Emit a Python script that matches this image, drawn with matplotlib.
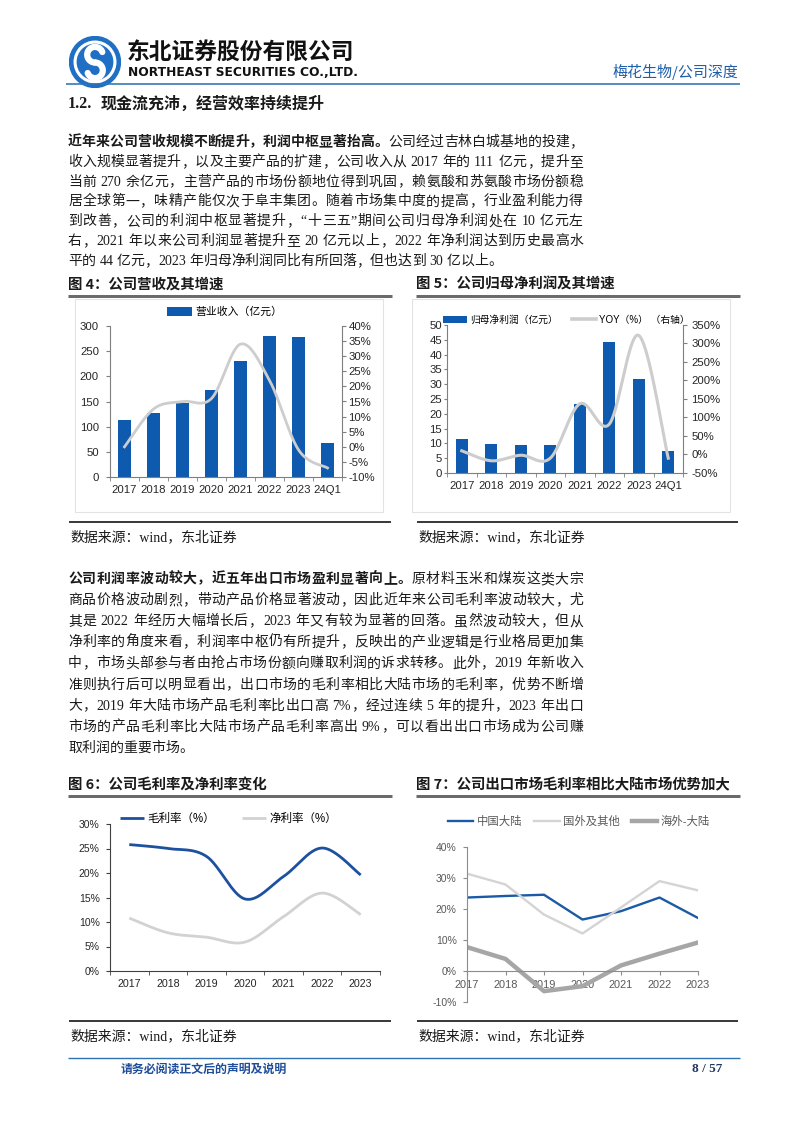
import re
import numpy as np
import matplotlib
matplotlib.use('Agg')
import matplotlib.pyplot as plt
from matplotlib.patches import Circle, Rectangle, Patch
from matplotlib.lines import Line2D
from matplotlib.ticker import FuncFormatter
from matplotlib.font_manager import FontProperties, findfont, get_font

# ---------------- data ----------------
years8 = ['2017', '2018', '2019', '2020', '2021', '2022', '2023', '24Q1']
revenue = [113, 128, 148, 173, 230, 281, 279, 67]          # 亿元
revenue_yoy = [0, 12.5, 15, 16, 34, 22, -1, -7]            # %
profit = [11.5, 9.8, 9.6, 9.6, 23.4, 44.1, 31.8, 7.3]      # 亿元
profit_yoy = [10, -17, -2, -10, 137, 82, 322, -10]         # %

years7 = ['2017', '2018', '2019', '2020', '2021', '2022', '2023']
gross_margin = [25.8, 25.0, 23.4, 14.7, 19.3, 25.1, 19.6]
net_margin = [10.8, 7.8, 6.9, 5.9, 11.1, 15.9, 11.5]
gm_mainland = [23.7, 24.2, 24.6, 16.6, 19.3, 23.7, 17.1]
gm_overseas = [31.4, 27.9, 18.2, 12.1, 20.5, 29.0, 26.0]
gm_diff = [7.7, 3.9, -6.5, -4.9, 1.8, 5.6, 9.2]

para1 = [
    [('近年来公司营收规模不断提升，利润中枢显著抬高。', True), ('公司经过吉林白城基地的投建，', False)],
    [('收入规模显著提升，以及主要产品的扩建，公司收入从 2017 年的 111 亿元，提升至', False)],
    [('当前 270 余亿元，主营产品的市场份额地位得到巩固，赖氨酸和苏氨酸市场份额稳', False)],
    [('居全球第一，味精产能仅次于阜丰集团。随着市场集中度的提高，行业盈利能力得', False)],
    [('到改善，公司的利润中枢显著提升，“十三五”期间公司归母净利润处在 10 亿元左', False)],
    [('右，2021 年以来公司利润显著提升至 20 亿元以上，2022 年净利润达到历史最高水', False)],
    [('平的 44 亿元，2023 年归母净利润同比有所回落，但也达到 30 亿以上。', False)],
]
para2 = [
    [('公司利润率波动较大，近五年出口市场盈利显著向上。', True), ('原材料玉米和煤炭这类大宗', False)],
    [('商品价格波动剧烈，带动产品价格显著波动，因此近年来公司毛利率波动较大，尤', False)],
    [('其是 2022 年经历大幅增长后，2023 年又有较为显著的回落。虽然波动较大，但从', False)],
    [('净利率的角度来看，利润率中枢仍有所提升，反映出的产业逻辑是行业格局更加集', False)],
    [('中，市场头部参与者由抢占市场份额向赚取利润的诉求转移。此外，2019 年新收入', False)],
    [('准则执行后可以明显看出，出口市场的毛利率相比大陆市场的毛利率，优势不断增', False)],
    [('大，2019 年大陆市场产品毛利率比出口高 7%，经过连续 5 年的提升，2023 年出口', False)],
    [('市场的产品毛利率比大陆市场产品毛利率高出 9%，可以看出出口市场成为公司赚', False)],
    [('取利润的重要市场。', False)],
]

# ---------------- setup ----------------
W, H = 802, 1133
CJK = 'Noto Sans CJK SC'
LAT_SERIF = 'Liberation Serif'
SERIF = [LAT_SERIF, CJK]
SANS = ['Liberation Sans', CJK]
plt.rcParams['font.family'] = SANS
plt.rcParams['axes.unicode_minus'] = False

HDR_BLUE = '#2e74b5'
BAR = '#0e5aae'
LGRAY = '#cdcdcd'
DBLUE = '#1d519f'
TXT = '#1a1a1a'

fig = plt.figure(figsize=(W / 100, H / 100), dpi=100)


def fx(x):
    return x / W


def fy(y):
    return 1 - y / H


def ftext(x, y, s, **kw):
    return fig.text(fx(x), fy(y), s, **kw)


def hline(x0, x1, y, color, lw_px):
    fig.add_artist(Line2D([fx(x0), fx(x1)], [fy(y), fy(y)], color=color,
                          lw=lw_px * 0.72, transform=fig.transFigure,
                          solid_capstyle='butt'))


def add_ax(x0, y0, x1, y1, **kw):
    return fig.add_axes([fx(x0), fy(y1), (x1 - x0) / W, (y1 - y0) / H], **kw)


def lat_width(s, size_pt, weight='normal'):
    f = get_font(findfont(FontProperties(family=LAT_SERIF, weight=weight)))
    f.set_size(size_pt, 100)
    w = 0.0
    for ch in s:
        g = f.load_char(ord(ch))
        w += g.linearHoriAdvance / 65536
    return w


TOKEN = re.compile(r'[A-Za-z0-9%.\-/]+|\s|.')


def is_cjk(tk):
    return ord(tk[0]) >= 0x2E80


def draw_para(lines, x0, x1, yc0, dy, size_pt):
    px = size_pt * 100 / 72
    for i, segs in enumerate(lines):
        yb = yc0 + i * dy + 0.36 * px
        toks = []
        for s, b in segs:
            for tk in TOKEN.findall(s):
                toks.append((tk, b))
        ws = []
        for tk, b in toks:
            if tk == ' ':
                ws.append(0.25 * px)
            elif is_cjk(tk):
                ws.append(px * len(tk))
            else:
                ws.append(lat_width(tk, size_pt, 'bold' if b else 'normal'))
        last = i == len(lines) - 1
        gap = 0 if last else (x1 - x0 - sum(ws)) / (len(toks) - 1)
        x = x0
        for (tk, b), w in zip(toks, ws):
            if tk != ' ':
                fam = CJK if is_cjk(tk) else LAT_SERIF
                ftext(x, yb, tk, fontsize=size_pt, family=fam,
                      weight='bold' if b else 'normal', va='baseline',
                      ha='left', color=TXT)
            x += w + gap


def smooth(x, y, n=40):
    P = np.column_stack([np.asarray(x, float), np.asarray(y, float)])
    out = []
    for i in range(len(P) - 1):
        p0 = P[i - 1] if i > 0 else P[i]
        p1, p2 = P[i], P[i + 1]
        p3 = P[i + 2] if i + 2 < len(P) else P[i + 1]
        c1 = p1 + (p2 - p0) / 6
        c2 = p2 - (p3 - p1) / 6
        t = np.linspace(0, 1, n)[:, None]
        seg = (1 - t) ** 3 * p1 + 3 * (1 - t) ** 2 * t * c1 + 3 * (1 - t) * t ** 2 * c2 + t ** 3 * p2
        out.append(seg if i == 0 else seg[1:])
    out = np.vstack(out)
    return out[:, 0], out[:, 1]


pct = FuncFormatter(lambda v, p: f'{v:.0f}%')

# ---------------- header ----------------
lax = add_ax(69, 36, 121, 88)
lax.set_xlim(-1, 1)
lax.set_ylim(-1, 1)
lax.set_aspect('equal')
lax.axis('off')
lax.add_patch(Circle((0, 0), 0.98, color='#1f6fc5'))
lax.add_patch(Circle((0, 0), 0.80, color='white'))
lax.add_patch(Circle((0, 0), 0.68, color='#1f6fc5'))
th = np.linspace(np.deg2rad(20), np.deg2rad(270), 60)
lax.plot(0.30 * np.cos(th), 0.28 + 0.30 * np.sin(th), color='white', lw=4.5, solid_capstyle='round')
th = np.linspace(np.deg2rad(90), np.deg2rad(-160), 60)
lax.plot(0.30 * np.cos(th), -0.32 + 0.30 * np.sin(th), color='white', lw=4.5, solid_capstyle='round')

ftext(127, 52, '东北证券股份有限公司', fontsize=16.4, family=CJK, weight='heavy',
      va='center', ha='left', color='#111111')
ftext(128, 72, 'NORTHEAST SECURITIES CO.,LTD.', fontsize=8.8, family='DejaVu Sans',
      weight='bold', va='center', ha='left', color='#111111')
ftext(738, 72, '梅花生物/公司深度', fontsize=10.8, family=CJK, va='center', ha='right',
      color='#1f5fa8')
hline(66, 740, 84, HDR_BLUE, 1.6)

ftext(68, 104, '1.2.', fontsize=11.5, family=LAT_SERIF, weight='bold', va='center',
      ha='left', color=TXT)
ftext(101, 104, '现金流充沛，经营效率持续提升', fontsize=11.5, family=CJK, weight='bold',
      va='center', ha='left', color=TXT)

# ---------------- paragraphs ----------------
draw_para(para1, 68, 583, 141, 19.8, 10)
draw_para(para2, 68, 583, 578, 21.1, 10)

# ---------------- captions / sources ----------------
def caption(x0, x1, y, s):
    ftext(x0, y, s, fontsize=10.4, family=CJK, weight='bold', va='center', ha='left', color=TXT)
    hline(x0, x1, y + 11, '#6b6b6b', 3)


def source(x0, x1, y):
    hline(x0, x1, y - 15, '#3c3c3c', 2)
    ftext(x0 + 1, y, '数据来源：wind，东北证券', fontsize=10, family=SERIF,
          va='center', ha='left', color=TXT)


caption(68, 392, 285, '图 4：公司营收及其增速')
caption(416, 740, 285, '图 5：公司归母净利润及其增速')
caption(68, 392, 785, '图 6：公司毛利率及净利率变化')
caption(416, 740, 785, '图 7：公司出口市场毛利率相比大陆市场优势加大')
source(69, 391, 537)
source(417, 738, 537)
source(69, 391, 1036)
source(417, 738, 1036)

# faint chart frames
for (a, b, c, d) in [(75, 299, 383, 512), (412, 299, 730, 512)]:
    fig.add_artist(Rectangle((fx(a), fy(d)), (c - a) / W, (d - b) / H, fill=False,
                             ec='#e3e3e3', lw=0.8, transform=fig.transFigure))

# ---------------- chart 4 ----------------
TICK_C = '#262626'
ax4 = add_ax(110, 326, 342, 477)
x8 = np.arange(len(years8))
ax4.bar(x8, revenue, width=0.42, color=BAR, zorder=2)
ax4.set_xlim(-0.5, 7.5)
ax4.set_ylim(0, 300)
ax4.set_yticks(range(0, 301, 50))
ax4.set_xticks(x8)
ax4.set_xticklabels(years8)
ax4.set_xticks(np.arange(-0.5, 8, 1), minor=True)
ax4.tick_params(axis='x', which='major', length=0, pad=5.5, labelsize=8.2, colors=TICK_C)
ax4.tick_params(axis='x', which='minor', length=3, color='#7f7f7f')
ax4.tick_params(axis='y', length=3, pad=5, labelsize=8.2, color='#7f7f7f', labelcolor=TICK_C)
for s in ['top', 'right']:
    ax4.spines[s].set_visible(False)
for s in ['left', 'bottom']:
    ax4.spines[s].set_color('#7f7f7f')
ax4r = ax4.twinx()
ax4r.set_ylim(-10, 40)
ax4r.set_yticks(range(-10, 41, 5))
ax4r.yaxis.set_major_formatter(pct)
ax4r.tick_params(axis='y', length=3, pad=1.5, labelsize=8.2, color='#7f7f7f', labelcolor=TICK_C)
for s in ['top', 'left', 'bottom']:
    ax4r.spines[s].set_visible(False)
ax4r.spines['right'].set_color('#7f7f7f')
sx, sy = smooth(x8, revenue_yoy)
ax4r.plot(sx, sy, color=LGRAY, lw=2.0, zorder=3)
ax4r.legend(handles=[Patch(facecolor=BAR)], labels=['营业收入（亿元）'], loc='center left',
            bbox_to_anchor=(fx(167), fy(312)), bbox_transform=fig.transFigure,
            frameon=False, fontsize=7.8, handlelength=2.3, handleheight=0.9,
            handletextpad=0.3, borderpad=0, borderaxespad=0)

# ---------------- chart 5 ----------------
ax5 = add_ax(447, 325, 683, 473)
ax5.bar(x8, profit, width=0.42, color=BAR, zorder=2)
ax5.set_xlim(-0.5, 7.5)
ax5.set_ylim(0, 50)
ax5.set_yticks(range(0, 51, 5))
ax5.set_xticks(x8)
ax5.set_xticklabels(years8)
ax5.set_xticks(np.arange(-0.5, 8, 1), minor=True)
ax5.tick_params(axis='x', which='major', length=0, pad=5.5, labelsize=8.2, colors=TICK_C)
ax5.tick_params(axis='x', which='minor', length=3, color='#7f7f7f')
ax5.tick_params(axis='y', length=2, pad=1.5, labelsize=8.2, color='#7f7f7f', labelcolor=TICK_C)
for s in ['top', 'right']:
    ax5.spines[s].set_visible(False)
for s in ['left', 'bottom']:
    ax5.spines[s].set_color('#7f7f7f')
ax5r = ax5.twinx()
ax5r.set_ylim(-50, 350)
ax5r.set_yticks(range(-50, 351, 50))
ax5r.yaxis.set_major_formatter(pct)
ax5r.tick_params(axis='y', length=3, pad=3, labelsize=8.2, color='#7f7f7f', labelcolor=TICK_C)
for s in ['top', 'left', 'bottom']:
    ax5r.spines[s].set_visible(False)
ax5r.spines['right'].set_color('#7f7f7f')
sx, sy = smooth(x8, profit_yoy)
ax5r.plot(sx, sy, color=LGRAY, lw=2.2, zorder=3)
ax5r.legend(handles=[Patch(facecolor=BAR), Line2D([], [], color=LGRAY, lw=2.6)],
            labels=['归母净利润（亿元）', 'YOY（%） （右轴）'], loc='center left', ncol=2,
            bbox_to_anchor=(fx(443), fy(320)), bbox_transform=fig.transFigure,
            frameon=False, fontsize=7.0, handlelength=2.5, handleheight=0.8,
            handletextpad=0.3, columnspacing=1.4, borderpad=0, borderaxespad=0)

# ---------------- chart 6 ----------------
x7 = np.arange(len(years7))
ax6 = add_ax(110, 824, 380, 971)
sx, sy = smooth(x7, gross_margin)
ax6.plot(sx, sy, color=DBLUE, lw=2.0, label='毛利率（%）', solid_capstyle='butt')
sx, sy = smooth(x7, net_margin)
ax6.plot(sx, sy, color='#d2d2d2', lw=2.0, label='净利率（%）', solid_capstyle='butt')
ax6.set_xlim(-0.5, 6.5)
ax6.set_ylim(0, 30)
ax6.set_yticks(range(0, 31, 5))
ax6.yaxis.set_major_formatter(pct)
ax6.set_xticks(x7)
ax6.set_xticklabels(years7)
ax6.set_xticks(np.arange(-0.5, 7, 1), minor=True)
ax6.tick_params(axis='x', which='major', length=0, pad=6, labelsize=7.7, colors=TICK_C)
ax6.tick_params(axis='x', which='minor', length=3, color='#404040')
ax6.tick_params(axis='y', length=3, pad=4.5, labelsize=7.5, color='#404040', labelcolor=TICK_C)
for s in ['top', 'right']:
    ax6.spines[s].set_visible(False)
for s in ['left', 'bottom']:
    ax6.spines[s].set_color('#404040')
ax6.legend(loc='center left', ncol=2, bbox_to_anchor=(fx(120), fy(819)),
           bbox_transform=fig.transFigure, frameon=False, fontsize=8.3,
           handlelength=2.1, handletextpad=0.3, columnspacing=2.3,
           borderpad=0, borderaxespad=0)

# ---------------- chart 7 ----------------
G7 = '#595959'
ax7 = add_ax(467, 847, 698, 1002)
ax7.plot(x7, gm_mainland, color='#1b5aa6', lw=1.7, label='中国大陆')
ax7.plot(x7, gm_overseas, color='#d4d4d4', lw=1.7, label='国外及其他')
ax7.plot(x7, gm_diff, color='#a6a6a6', lw=3.2, label='海外-大陆')
ax7.set_xlim(0, 6)
ax7.set_ylim(-10, 40)
ax7.set_yticks(range(-10, 41, 10))
ax7.yaxis.set_major_formatter(pct)
ax7.set_xticks(x7)
ax7.set_xticklabels(years7)
ax7.spines['bottom'].set_position(('data', 0))
for s in ['top', 'right']:
    ax7.spines[s].set_visible(False)
for s in ['left', 'bottom']:
    ax7.spines[s].set_color('#8c8c8c')
ax7.tick_params(axis='x', length=3, pad=3.5, labelsize=7.9, color='#8c8c8c', labelcolor=G7)
ax7.tick_params(axis='y', length=3, pad=4.5, labelsize=7.5, color='#8c8c8c', labelcolor=G7)
ax7.legend(loc='center left', ncol=3, bbox_to_anchor=(fx(448), fy(821)),
           bbox_transform=fig.transFigure, frameon=False, fontsize=8.2,
           handlelength=2.2, handletextpad=0.3, columnspacing=1.1,
           borderpad=0, borderaxespad=0, labelcolor=G7)

# ---------------- footer ----------------
hline(68, 740, 1058, HDR_BLUE, 1.4)
ftext(121, 1069, '请务必阅读正文后的声明及说明', fontsize=8.6, family=CJK, weight='bold',
      va='center', ha='left', color='#1f4e9a')
ftext(722, 1069, '8 / 57', fontsize=9.5, family=LAT_SERIF, weight='bold',
      va='center', ha='right', color='#1f3864')

fig.savefig('out.png', dpi=100)
